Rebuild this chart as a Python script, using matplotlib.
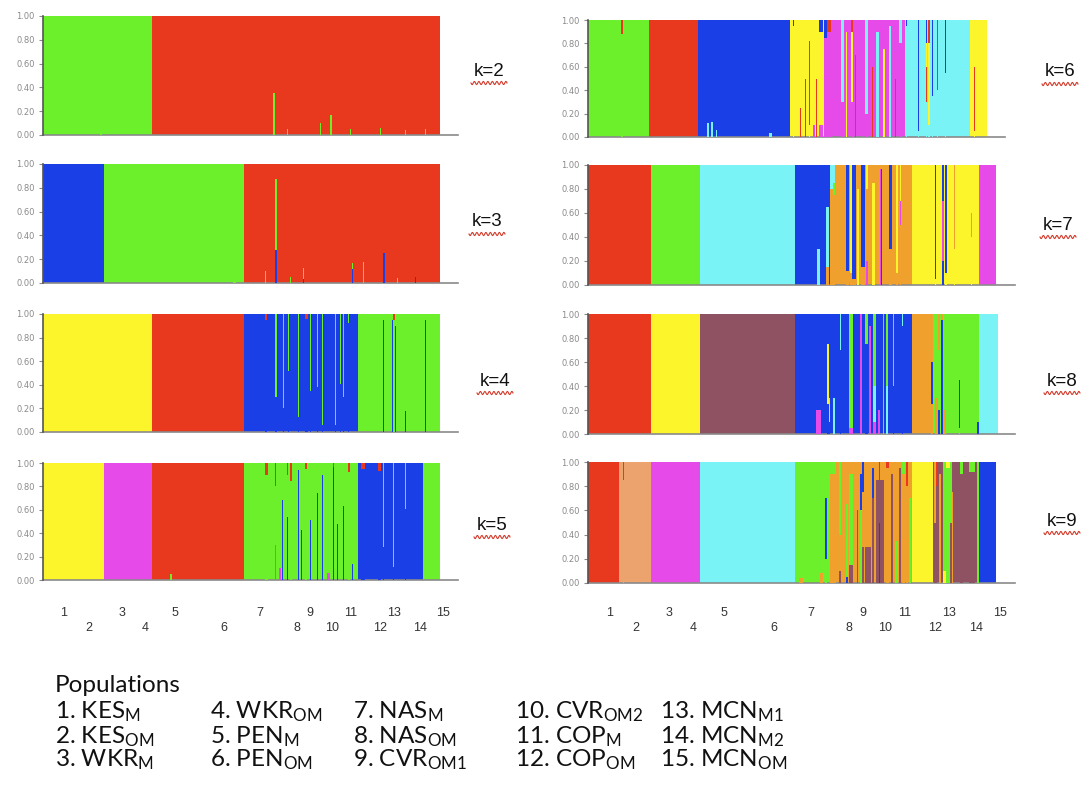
import numpy as np
import matplotlib.pyplot as plt
from matplotlib.lines import Line2D
from matplotlib.transforms import blended_transform_factory

plt.rcParams['mathtext.fontset'] = 'custom'
plt.rcParams['mathtext.rm'] = 'Lato'
plt.rcParams['mathtext.it'] = 'Lato'

# cluster colours
colors = {'R': '#e8391f', 'G': '#6cf02c', 'B': '#1b3fe6', 'Y': '#fcf52c',
          'M': '#e64ae8', 'C': '#7af3f6', 'O': '#f0a02c', 'P': '#8f5262',
          'S': '#eca36e'}

# individuals per population (15 populations, 397 individuals)
pop_sizes = [30, 31, 33, 15, 45, 47, 34, 22, 16, 24, 18, 20, 20, 25, 17]
pop_label_x = [21, 46, 79, 102, 132, 181, 217, 254, 267, 289, 308, 337, 351, 377, 400]
pop_codes = ['KES', 'KES', 'WKR', 'WKR', 'PEN', 'PEN', 'NAS', 'NAS', 'CVR',
             'CVR', 'COP', 'COP', 'MCN', 'MCN', 'MCN']
pop_subs = ['M', 'OM', 'M', 'OM', 'M', 'OM', 'M', 'OM', 'OM1', 'OM2', 'M', 'OM',
            'M1', 'M2', 'OM']

# membership: base blocks (count, cluster) then single-individual stripes
# stripe = (first individual, width, [(cluster, q), ...] stacked from the bottom)
k2_blocks = [(109, 'G'), (288, 'R')]
k2_stripes = [(57, 2, [('G', 0.98)]),
              (230, 2, [('G', 0.35)]), (244, 1, [('G', 0.05)]),
              (277, 1, [('G', 0.10)]), (287, 2, [('G', 0.17)]),
              (307, 1, [('G', 0.05)]), (337, 1, [('G', 0.06)]),
              (362, 1, [('G', 0.04)]), (382, 1, [('G', 0.05)])]

k3_blocks = [(61, 'B'), (140, 'G'), (196, 'R')]
k3_stripes = [(190, 3, [('G', 0.97)]),
              (222, 1, [('G', 0.10)]),
              (232, 2, [('B', 0.28), ('G', 0.59)]),
              (247, 1, [('G', 0.05)]),
              (260, 1, [('B', 0.03), ('G', 0.10)]),
              (309, 1, [('B', 0.12), ('G', 0.05)]),
              (320, 1, [('G', 0.18)]),
              (340, 2, [('B', 0.25)]),
              (354, 1, [('G', 0.04)]),
              (372, 1, [('B', 0.05)])]

k4_blocks = [(109, 'Y'), (92, 'R'), (114, 'B'), (82, 'G')]
k4_stripes = [(222, 2, [('B', 0.95), ('R', 0.05)]),
              (232, 2, [('B', 0.30), ('G', 0.70)]),
              (240, 1, [('B', 0.20), ('G', 0.80)]),
              (245, 1, [('B', 0.52), ('G', 0.48)]),
              (255, 1, [('B', 0.13), ('G', 0.87)]),
              (262, 3, [('B', 0.96), ('R', 0.04)]),
              (267, 1, [('B', 0.35), ('G', 0.65)]),
              (274, 1, [('B', 0.38), ('G', 0.62)]),
              (279, 1, [('B', 0.06), ('G', 0.94)]),
              (292, 1, [('B', 0.06), ('G', 0.94)]),
              (297, 1, [('B', 0.41), ('G', 0.59)]),
              (300, 1, [('B', 0.30), ('G', 0.70)]),
              (305, 1, [('B', 0.92), ('G', 0.08)]),
              (340, 1, [('B', 0.95)]),
              (349, 1, [('B', 0.95)]),
              (350, 2, [('G', 0.95), ('R', 0.05)]),
              (352, 1, [('B', 0.90)]),
              (362, 1, [('B', 0.18)]),
              (382, 1, [('B', 0.95)])]

k5_blocks = [(61, 'Y'), (48, 'M'), (92, 'R'), (114, 'G'), (65, 'B'), (17, 'G')]
k5_stripes = [(127, 2, [('G', 0.05)]),
              (222, 3, [('G', 0.90), ('R', 0.10)]),
              (232, 1, [('M', 0.30), ('G', 0.50), ('R', 0.20)]),
              (236, 2, [('M', 0.10)]),
              (239, 1, [('B', 0.68)]),
              (244, 1, [('B', 0.54), ('G', 0.36), ('R', 0.10)]),
              (247, 2, [('G', 0.85), ('R', 0.15)]),
              (255, 1, [('B', 0.94)]),
              (258, 1, [('B', 0.43)]),
              (262, 2, [('G', 0.95), ('R', 0.05)]),
              (267, 1, [('B', 0.51)]),
              (274, 1, [('B', 0.74)]),
              (279, 1, [('B', 0.90)]),
              (284, 3, [('M', 0.06)]),
              (290, 1, [('B', 0.97), ('R', 0.03)]),
              (294, 1, [('B', 0.48)]),
              (300, 1, [('B', 0.63)]),
              (305, 2, [('G', 0.92), ('R', 0.08)]),
              (309, 1, [('B', 0.14)]),
              (318, 4, [('B', 0.95), ('R', 0.05)]),
              (335, 3, [('B', 0.93), ('R', 0.07)]),
              (340, 1, [('B', 0.28), ('G', 0.72)]),
              (350, 1, [('B', 0.11), ('G', 0.89)]),
              (362, 1, [('B', 0.61), ('G', 0.39)])]

k6_blocks = [(61, 'G'), (48, 'R'), (92, 'B'), (34, 'Y'), (80, 'M'), (65, 'C'), (17, 'Y')]
k6_stripes = [(33, 2, [('G', 0.88), ('R', 0.12)]),
              (118, 2, [('C', 0.12)]), (122, 2, [('C', 0.13)]),
              (127, 1, [('C', 0.06)]), (180, 3, [('C', 0.03)]),
              (204, 1, [('Y', 0.95), ('B', 0.05)]),
              (211, 1, [('R', 0.25)]),
              (216, 1, [('R', 0.50)]),
              (220, 1, [('Y', 0.10), ('R', 0.72)]),
              (224, 2, [('M', 0.10)]),
              (227, 1, [('R', 0.50)]),
              (230, 4, [('M', 0.10), ('Y', 0.80), ('B', 0.10)]),
              (235, 3, [('M', 0.85), ('B', 0.15)]),
              (238, 4, [('M', 0.90), ('R', 0.10)]),
              (252, 3, [('M', 0.30), ('C', 0.70)]),
              (257, 1, [('Y', 0.90)]),
              (262, 2, [('M', 0.30), ('Y', 0.60), ('R', 0.10)]),
              (266, 1, [('R', 0.70)]),
              (276, 3, [('M', 0.20), ('C', 0.80)]),
              (283, 1, [('R', 0.60)]),
              (287, 3, [('C', 0.90)]),
              (294, 2, [('Y', 0.75)]),
              (300, 2, [('C', 0.95)]),
              (306, 1, [('R', 0.50)]),
              (310, 2, [('M', 0.80), ('C', 0.20)]),
              (316, 1, [('C', 0.95), ('B', 0.05)]),
              (328, 1, [('C', 0.05), ('B', 0.95)]),
              (336, 1, [('C', 0.30), ('R', 0.30), ('Y', 0.20), ('B', 0.20)]),
              (338, 2, [('C', 0.10), ('Y', 0.70), ('R', 0.20)]),
              (342, 1, [('C', 0.35), ('B', 0.65)]),
              (347, 1, [('C', 0.40), ('R', 0.60)]),
              (355, 1, [('C', 0.55), ('B', 0.45)]),
              (384, 1, [('Y', 0.05), ('R', 0.55)])]

k7_blocks = [(61, 'R'), (48, 'G'), (92, 'C'), (34, 'B'), (80, 'O'), (65, 'Y'), (17, 'M')]
k7_stripes = [(223, 2, [('C', 0.30)]),
              (231, 3, [('O', 0.15), ('C', 0.50)]),
              (235, 3, [('O', 0.80), ('C', 0.20)]),
              (238, 2, [('O', 0.75), ('G', 0.10), ('C', 0.15)]),
              (251, 3, [('O', 0.12), ('B', 0.88)]),
              (255, 2, [('O', 0.10), ('Y', 0.90)]),
              (257, 3, [('O', 0.05), ('B', 0.95)]),
              (261, 2, [('Y', 0.80)]),
              (265, 4, [('O', 0.15), ('B', 0.85)]),
              (270, 2, [('M', 0.20), ('O', 0.60), ('Y', 0.20)]),
              (276, 3, [('Y', 0.85)]),
              (284, 1, [('M', 0.97)]),
              (285, 1, [('B', 0.97)]),
              (293, 2, [('O', 0.30), ('B', 0.70)]),
              (299, 2, [('O', 0.10), ('Y', 0.90)]),
              (303, 1, [('O', 0.50), ('M', 0.20), ('Y', 0.30)]),
              (337, 1, [('Y', 0.05), ('B', 0.95)]),
              (344, 2, [('B', 0.20), ('M', 0.50), ('B', 0.30)]),
              (347, 2, [('Y', 0.10), ('B', 0.90)]),
              (356, 1, [('Y', 0.30), ('O', 0.70)]),
              (372, 1, [('Y', 0.40), ('O', 0.20)])]

k8_blocks = [(61, 'R'), (48, 'Y'), (92, 'P'), (114, 'B'), (20, 'O'), (45, 'G'), (18, 'C')]
k8_stripes = [(222, 4, [('M', 0.20)]),
              (232, 2, [('B', 0.25), ('Y', 0.50)]),
              (234, 1, [('B', 0.10), ('C', 0.20)]),
              (238, 2, [('C', 0.30)]),
              (245, 1, [('B', 0.70), ('C', 0.30)]),
              (254, 4, [('M', 0.05), ('G', 0.95)]),
              (264, 2, [('M', 1.00)]),
              (269, 3, [('B', 0.75), ('G', 0.25)]),
              (273, 2, [('M', 0.90)]),
              (277, 3, [('M', 0.10), ('C', 0.30), ('G', 0.60)]),
              (282, 2, [('M', 0.20)]),
              (287, 1, [('G', 1.00)]),
              (290, 2, [('C', 0.40), ('G', 0.60)]),
              (296, 1, [('B', 0.40), ('G', 0.60)]),
              (305, 1, [('B', 0.90), ('C', 0.10)]),
              (333, 2, [('O', 0.25), ('B', 0.35)]),
              (337, 3, [('O', 0.30)]),
              (340, 2, [('B', 0.20), ('G', 0.50), ('O', 0.30)]),
              (343, 2, [('B', 0.95), ('O', 0.05)]),
              (345, 3, [('O', 0.20)]),
              (361, 1, [('G', 0.05), ('B', 0.40)]),
              (378, 2, [('B', 0.10)])]

k9_blocks = [(30, 'R'), (31, 'S'), (48, 'M'), (92, 'C'), (34, 'G'), (80, 'O'), (20, 'Y'), (45, 'P'), (17, 'B')]
k9_stripes = [(34, 1, [('S', 0.85), ('R', 0.15)]),
              (205, 4, [('O', 0.04)]),
              (225, 3, [('O', 0.08)]),
              (230, 2, [('G', 0.20), ('B', 0.50)]),
              (235, 6, [('O', 0.90), ('G', 0.10)]),
              (244, 2, [('P', 0.10), ('O', 0.30), ('G', 0.60)]),
              (251, 2, [('B', 0.05), ('G', 0.60)]),
              (254, 4, [('P', 0.15), ('G', 0.75)]),
              (261, 1, [('P', 0.60)]),
              (264, 2, [('G', 0.60), ('B', 0.30)]),
              (266, 2, [('P', 0.30), ('O', 0.45), ('B', 0.25)]),
              (269, 6, [('P', 0.30)]),
              (276, 2, [('P', 0.70), ('B', 0.25)]),
              (280, 8, [('P', 0.85)]),
              (283, 1, [('B', 0.50), ('P', 0.50)]),
              (290, 3, [('O', 0.95), ('R', 0.05)]),
              (294, 2, [('P', 0.90)]),
              (298, 3, [('G', 0.35)]),
              (302, 2, [('P', 0.95)]),
              (305, 3, [('O', 0.90), ('G', 0.10)]),
              (309, 2, [('O', 0.80), ('R', 0.20)]),
              (312, 2, [('G', 0.70)]),
              (336, 2, [('P', 0.50), ('O', 0.50)]),
              (338, 1, [('P', 0.80), ('R', 0.20)]),
              (341, 2, [('O', 0.90)]),
              (345, 3, [('Y', 0.10), ('G', 0.90)]),
              (348, 4, [('G', 0.95), ('Y', 0.05)]),
              (352, 2, [('P', 0.50), ('G', 0.50)]),
              (354, 1, [('O', 0.75)]),
              (362, 2, [('P', 0.90), ('G', 0.10)]),
              (370, 6, [('P', 0.92), ('G', 0.08)]),
              (378, 2, [('G', 1.00)])]


def draw_panel(ax, blocks, stripes):
    start = 0
    for n, c in blocks:
        ax.bar(start, 1.0, width=n, align='edge', color=colors[c], linewidth=0)
        start += n
    for i, w, stack in stripes:
        bottom = 0.0
        for c, q in stack:
            ax.bar(i, q, width=w, bottom=bottom, align='edge', color=colors[c],
                   linewidth=0, zorder=3)
            bottom += q
    ax.set_xlim(0, 415)
    ax.set_ylim(0, 1)
    ax.set_xticks([])
    ax.set_yticks(np.arange(0, 1.01, 0.2))
    ax.set_yticklabels(['%.2f' % v for v in np.arange(0, 1.01, 0.2)])
    ax.tick_params(axis='y', labelsize=6, colors='#8a8a8a', length=3, width=0.8, pad=3)
    for s in ['top', 'right']:
        ax.spines[s].set_visible(False)
    ax.spines['left'].set_color('#555555')
    ax.spines['left'].set_linewidth(1.2)
    ax.spines['bottom'].set_color('#8a8a8a')
    ax.spines['bottom'].set_linewidth(1.2)
    ax.spines['left'].set_zorder(5)


W, H = 1089, 792
fig = plt.figure(figsize=(W / 100, H / 100), dpi=100)


def add_axes_px(x0, top, width, bottom):
    return fig.add_axes([x0 / W, 1 - bottom / H, width / W, (bottom - top) / H])


panels = [
    (k2_blocks, k2_stripes, (43, 16, 415, 135), 'k=2', (489, 71)),
    (k3_blocks, k3_stripes, (43, 164, 415, 283), 'k=3', (487, 222)),
    (k4_blocks, k4_stripes, (43, 314, 415, 432), 'k=4', (495, 381)),
    (k5_blocks, k5_stripes, (43, 463, 415, 580), 'k=5', (492, 525)),
    (k6_blocks, k6_stripes, (588, 20, 417, 137), 'k=6', (1060, 72)),
    (k7_blocks, k7_stripes, (588, 165, 427, 285), 'k=7', (1058, 225)),
    (k8_blocks, k8_stripes, (588, 314, 427, 434), 'k=8', (1062, 381)),
    (k9_blocks, k9_stripes, (588, 462, 427, 583), 'k=9', (1062, 521)),
]

axes = []
for blocks, stripes, box, klab, (kx, ky) in panels:
    ax = add_axes_px(*box)
    draw_panel(ax, blocks, stripes)
    axes.append(ax)
    fig.text(kx / W, 1 - ky / H, klab, fontsize=13.5, family='Liberation Sans',
             color='#111111', ha='center', va='center')
    # red spell-check squiggle under the k label
    xs = np.linspace(kx - 18, kx + 18, 60)
    ys = ky + 12 + 1.6 * np.sin((xs - xs[0]) * 2 * np.pi / 4.5)
    fig.add_artist(Line2D(xs / W, 1 - ys / H, color='#d23b2b', lw=0.8,
                          transform=fig.transFigure))

# population numbers under the bottom panels
for ax in (axes[3], axes[7]):
    tr = blended_transform_factory(ax.transData, fig.transFigure)
    for j, x in enumerate(pop_label_x):
        y = 613 if j % 2 == 0 else 628
        ax.text(x, 1 - y / H, str(j + 1), transform=tr, ha='center', va='center',
                fontsize=9, family='Liberation Sans', color='#333333')

# population key
fig.text(55 / W, 1 - 686 / H, 'Populations', fontsize=17.5, family='Lato',
         color='#111111', va='center')
col_x = [55, 210, 353, 515, 660]
row_y = [712, 737, 760]
for j, (code, sub) in enumerate(zip(pop_codes, pop_subs)):
    col, row = divmod(j, 3)
    fig.text(col_x[col] / W, 1 - row_y[row] / H,
             r'%d. %s$_{\mathrm{%s}}$' % (j + 1, code, sub),
             fontsize=17.5, family='Lato', color='#111111', va='center')

fig.savefig('out.png', dpi=100, facecolor='white')
